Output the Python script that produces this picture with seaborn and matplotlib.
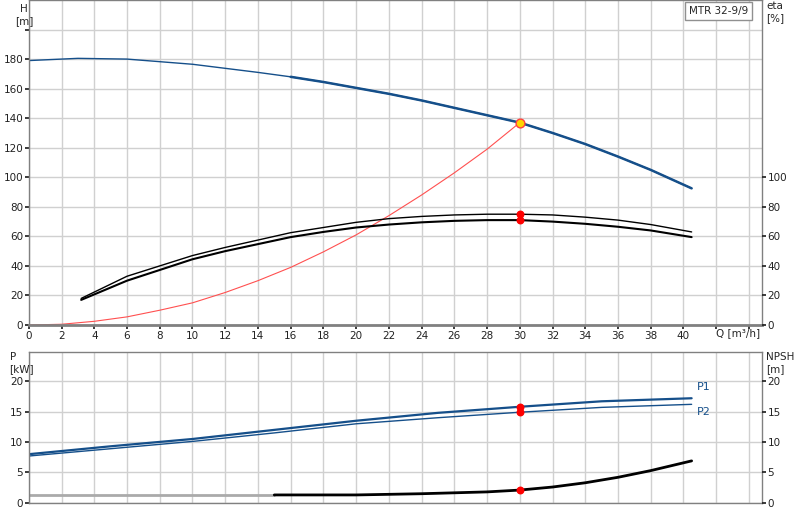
import numpy as np
import seaborn as sns
from matplotlib import pyplot as plt

## DATA
q_h = [0, 3, 6, 10, 14, 16, 18, 20, 22, 24, 26, 28, 30, 32, 34, 36, 38, 40.5]
h = [179, 180.5, 180, 176.5, 171, 168, 164.5, 160.5, 156.5, 152, 147, 142, 137, 130, 122.5, 114, 105, 92.5]

q_eta = [3.2, 6, 10, 12, 16, 18, 20, 22, 24, 26, 28, 30, 32, 34, 36, 38, 40.5]
eta1 = [18, 33, 47, 52.5, 62.5, 66, 69.5, 72, 73.5, 74.5, 75, 75, 74.5, 73, 71, 68, 63]
eta2 = [17, 30, 44.5, 50, 59.5, 63, 66, 68, 69.5, 70.5, 71, 71, 70, 68.5, 66.5, 64, 59.5]

q_sys = [0, 2, 4, 6, 8, 10, 12, 14, 16, 18, 20, 22, 24, 26, 28, 30]
h_sys = [0, 0.5, 2.5, 5.5, 10, 15, 22, 30, 39, 49.5, 61, 74, 88, 103, 119, 137]

q_p = [0, 5, 10, 15, 20, 25, 30, 35, 40.5]
p1 = [8, 9.3, 10.5, 12, 13.5, 14.8, 15.8, 16.7, 17.2]
p2 = [7.7, 8.9, 10.1, 11.5, 13, 14, 14.9, 15.7, 16.2]

q_npsh = [15, 20, 24, 28, 30, 32, 34, 36, 38, 40.5]
npsh = [1.3, 1.3, 1.5, 1.8, 2.1, 2.6, 3.3, 4.2, 5.3, 6.9]
npsh_low = 1.3

duty_q, duty_h = 30, 137
duty_eta = [75, 71]
duty_p = [15.8, 14.9]
duty_npsh = 2.1

xticks = list(range(0, 45, 2))
xlabels = [str(t) if t <= 40 else '' for t in xticks]

sns.set_theme(style='white')
plt.rcParams['font.family'] = ['DejaVu Sans']
blue = '#154f8a'
fig = plt.figure(figsize=(8, 5.2), dpi=100)
ax = fig.add_axes([0.036, 0.375, 0.9165, 0.625])
axb = fig.add_axes([0.036, 0.033, 0.9165, 0.29])

for a in (ax, axb):
    a.set_xlim(0, 44.8)
    a.set_xticks(xticks)
    a.grid(True, color='#d0d0d0', lw=1)
    for s in a.spines.values():
        s.set_color('#808080')
        s.set_linewidth(1)
    a.tick_params(labelsize=7.5, length=3, pad=1, colors='#222222')

# top chart
ax.set_ylim(0, 220)
ax.set_yticks(range(0, 201, 20))
ax.set_yticklabels([str(t) if t <= 180 else '' for t in range(0, 201, 20)])
ax.set_xticklabels(xlabels)
ax.tick_params(axis='x', bottom=True, length=3)
ax.tick_params(axis='y', left=False)
ax.spines['bottom'].set_linewidth(2)
sns.lineplot(x=q_h, y=h, ax=ax, color=blue, lw=1, estimator=None)
sns.lineplot(x=q_h[5:], y=h[5:], ax=ax, color=blue, lw=1.8, estimator=None)
sns.lineplot(x=q_sys, y=h_sys, ax=ax, color='#ff5050', lw=0.8, estimator=None)
sns.lineplot(x=q_eta, y=eta1, ax=ax, color='black', lw=1.0, estimator=None)
sns.lineplot(x=q_eta, y=eta2, ax=ax, color='black', lw=1.5, estimator=None)
ax.scatter([duty_q] * 2, duty_eta, color='red', s=22, zorder=5)
ax.scatter([duty_q], [duty_h], color='#ffd500', edgecolor='#ff4040', s=40, zorder=6)
ax.text(-0.3, 217, 'H\n[m]', fontsize=7.5, ha='center', va='top', transform=ax.transData)
ax.set_ylabel('')
axr = ax.twinx()
axr.set_ylim(0, 220)
axr.set_yticks(range(0, 101, 20))
axr.tick_params(labelsize=7.5, length=3, pad=1, colors='#222222')
axr.grid(False)
for s in axr.spines.values():
    s.set_visible(False)
fig.text(0.958, 0.998, 'eta\n[%]', fontsize=7.5, ha='left', va='top')
fig.text(0.922, 0.369, 'Q [m³/h]', fontsize=7.5, ha='center', va='top')
fig.text(0.935, 0.988, 'MTR 32-9/9', fontsize=7.5, ha='right', va='top',
         bbox=dict(boxstyle='square,pad=0.4', fc='white', ec='#909090'))

# bottom chart
axb.set_ylim(0, 24.8)
axb.set_yticks(range(0, 21, 5))
axb.set_xticklabels([])
axb.tick_params(axis='x', length=0)
axb.tick_params(axis='y', left=False)
sns.lineplot(x=q_p, y=p1, ax=axb, color=blue, lw=1.6, estimator=None)
sns.lineplot(x=q_p, y=p2, ax=axb, color=blue, lw=1, estimator=None)
axb.plot([0, q_npsh[0]], [npsh_low, npsh_low], color='#aaaaaa', lw=2)
sns.lineplot(x=q_npsh, y=npsh, ax=axb, color='black', lw=2, estimator=None)
axb.scatter([duty_q] * 2 + [duty_q], duty_p + [duty_npsh], color='red', s=22, zorder=5)
axb.text(40.8, 18.5, 'P1', color=blue, fontsize=8)
axb.text(40.8, 14.4, 'P2', color=blue, fontsize=8)
axb.set_ylabel('')
axbr = axb.twinx()
axbr.set_ylim(0, 24.8)
axbr.set_yticks(range(0, 21, 5))
axbr.tick_params(labelsize=7.5, length=3, pad=1, colors='#222222')
axbr.grid(False)
for s in axbr.spines.values():
    s.set_visible(False)
fig.text(0.012, 0.323, 'P\n[kW]', fontsize=7.5, ha='left', va='top')
fig.text(0.958, 0.323, 'NPSH\n[m]', fontsize=7.5, ha='left', va='top')

fig.savefig('out.png', dpi=100)
